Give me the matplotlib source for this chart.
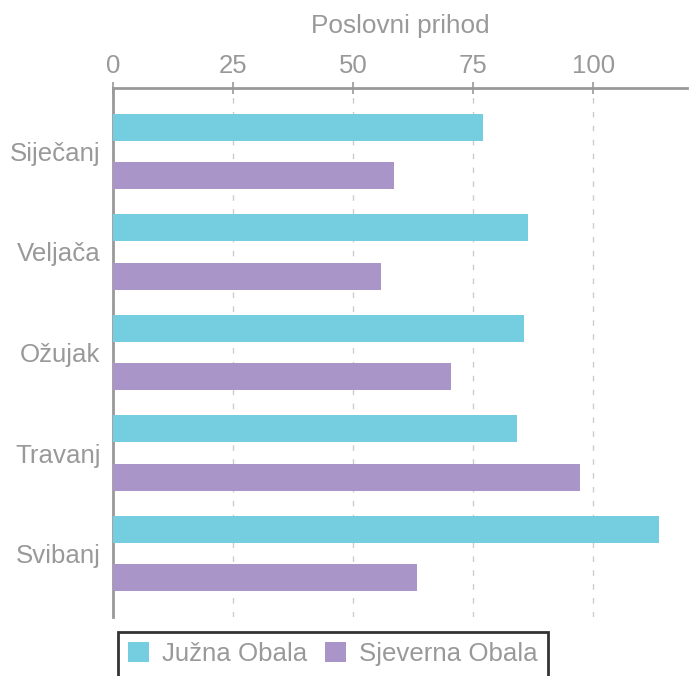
import matplotlib.pyplot as plt
import numpy as np

# data
mjeseci = ["Siječanj", "Veljača", "Ožujak", "Travanj", "Svibanj"]
juzna = [77.0, 86.4, 85.6, 84.1, 113.6]
sjeverna = [58.6, 55.7, 70.4, 97.3, 63.3]
serije = ["Južna Obala", "Sjeverna Obala"]
boje = ["#74CEE0", "#AA95C8"]

siva = "#999999"
plt.rcParams["font.family"] = ["Liberation Sans", "DejaVu Sans"]

fig = plt.figure(figsize=(6.89, 6.76), dpi=100)
W, H = 689, 676
ax = fig.add_axes([113 / W, 1 - 617 / H, (687 - 113) / W, (617 - 88) / H])

y = np.arange(len(mjeseci))
h = 0.268
ax.barh(y - 0.24, juzna, height=h, color=boje[0], label=serije[0], zorder=3)
ax.barh(y + 0.24, sjeverna, height=h, color=boje[1], label=serije[1], zorder=3)

ax.set_xlim(0, 119.5)
ax.set_ylim(len(mjeseci) - 1 + 0.63, -0.63)
ax.set_yticks(y)
ax.set_yticklabels(mjeseci)
ax.set_xticks([0, 25, 50, 75, 100])

ax.xaxis.tick_top()
ax.xaxis.set_label_position("top")
ax.set_xlabel("Poslovni prihod", color=siva, fontsize=18.8, labelpad=15)
ax.tick_params(axis="x", colors=siva, labelsize=18.5, direction="inout",
               length=9, width=1.2, pad=3)
ax.tick_params(axis="y", colors=siva, labelsize=18.6, length=0, pad=9)
for t in ax.get_xticklabels() + ax.get_yticklabels():
    t.set_color(siva)

for s in ["right", "bottom"]:
    ax.spines[s].set_visible(False)
ax.spines["top"].set_color(siva)
ax.spines["top"].set_linewidth(2)
ax.spines["left"].set_color(siva)
ax.spines["left"].set_linewidth(2)

ax.grid(axis="x", linestyle=(0, (4, 6)), color="#cccccc", linewidth=1, zorder=0)

leg = fig.legend(loc="upper left", bbox_to_anchor=(118 / W, 1 - 632 / H),
                 ncol=2, fontsize=18.6, frameon=True, fancybox=False,
                 handlelength=0.8, handleheight=0.8, handletextpad=0.5,
                 columnspacing=0.7, borderpad=0.4, borderaxespad=0)
leg.get_frame().set_edgecolor("black")
leg.get_frame().set_linewidth(2)
for t in leg.get_texts():
    t.set_color(siva)

fig.savefig("out.png", dpi=100)
